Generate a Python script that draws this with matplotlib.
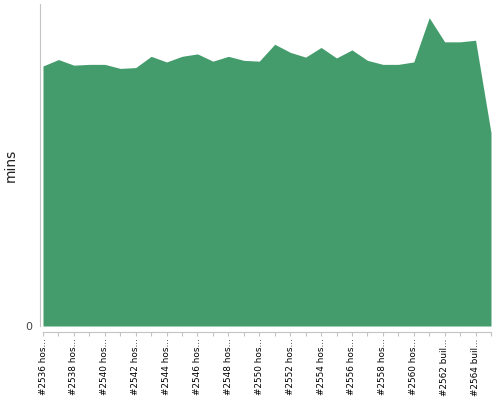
import matplotlib
matplotlib.use('Agg')
import matplotlib.pyplot as plt

builds = list(range(2536, 2566))
kinds = ['hos'] * 26 + ['buil'] * 4
labels = ['#' + str(b) + ' ' + k + '...' for b, k in zip(builds, kinds)]
mins = [32.3, 33.1, 32.4, 32.5, 32.5, 32.0, 32.1, 33.5, 32.8, 33.5,
        33.8, 32.9, 33.5, 33.0, 32.9, 35.0, 34.0, 33.4, 34.6, 33.3,
        34.3, 33.0, 32.5, 32.5, 32.8, 38.3, 35.3, 35.3, 35.5, 24.0]

green = '#449c6c'
axis_grey = '#c4c4c4'

fig = plt.figure(figsize=(5, 4), dpi=100)
ax = fig.add_axes([43 / 500, 74 / 400, 448 / 500, 322 / 400])

x = list(range(len(mins)))
ax.fill_between(x, 0, mins, color=green, linewidth=0)
ax.set_xlim(0, len(mins) - 1)
ax.set_ylim(0, 40)

ax.spines['top'].set_visible(False)
ax.spines['right'].set_visible(False)
ax.spines['left'].set_position(('outward', 2))
ax.spines['bottom'].set_position(('outward', 4))
ax.spines['left'].set_color(axis_grey)
ax.spines['bottom'].set_color(axis_grey)

ax.set_xticks(x)
ax.set_xticklabels([l if i % 2 == 0 else '' for i, l in enumerate(labels)],
                   rotation=90, fontsize=6.4)
ax.tick_params(axis='x', length=3, color=axis_grey, pad=2)
ax.set_yticks([0])
ax.set_yticklabels(['0'], fontsize=8, color='#444444')
ax.tick_params(axis='y', length=0, pad=6)
ax.set_ylabel('mins', fontsize=10, color='#222222')
ax.yaxis.set_label_coords(-25 / 448, 0.5)

fig.savefig('out.png', dpi=100)
